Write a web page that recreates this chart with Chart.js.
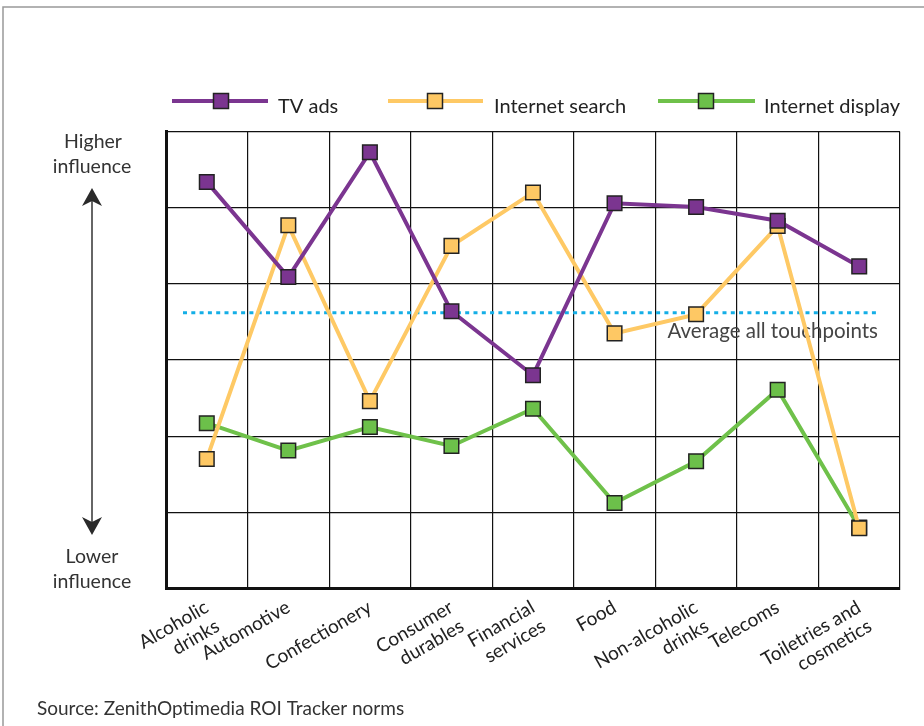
<!DOCTYPE html>
<html><head><meta charset="utf-8">
<script src="https://cdn.jsdelivr.net/npm/chart.js@4.4.0/dist/chart.umd.min.js"></script>
<style>html,body{margin:0;padding:0;background:#fff}canvas{display:block}</style>
</head><body>
<canvas id="c" width="924" height="726"></canvas>
<script>
// ---- data ----
const categories = [['Alcoholic','drinks'],'Automotive','Confectionery',['Consumer','durables'],['Financial','services'],'Food',['Non-alcoholic','drinks'],'Telecoms',['Toiletries and','cosmetics']];
const tvAds = [5.34, 4.09, 5.73, 3.64, 2.80, 5.06, 5.01, 4.83, 4.23];
const internetSearch = [1.70, 4.77, 2.46, 4.50, 5.20, 3.35, 3.60, 4.76, 0.79];
const internetDisplay = [2.17, 1.81, 2.12, 1.87, 2.36, 1.12, 1.67, 2.61, 0.80];
const averageAll = [3.62];
const seriesNames = ['TV ads', 'Internet search', 'Internet display'];
const topAxisText = ['Higher', 'influence'];
const bottomAxisText = ['Lower', 'influence'];
const averageText = 'Average all touchpoints';
const sourceText = 'Source: ZenithOptimedia ROI Tracker norms';

const FONT = 'Lato';
const lineColors = ['#7b3590', '#fec965', '#6fc14a'];
const markerColors = ['#7b3590', '#fec864', '#6cc04a'];

Chart.defaults.font.family = FONT;

const overlay = {
  id: 'overlay',
  beforeDatasetsDraw(chart) {
    const {ctx, chartArea: a, scales: {y}} = chart;
    const yy = y.getPixelForValue(averageAll[0]);
    ctx.save();
    ctx.strokeStyle = '#14aee6';
    ctx.lineWidth = 3;
    ctx.setLineDash([4, 4.3]);
    ctx.beginPath();
    ctx.moveTo(a.left + 17, yy);
    ctx.lineTo(a.right - 23, yy);
    ctx.stroke();
    ctx.setLineDash([]);
    ctx.fillStyle = '#444';
    ctx.font = '20.5px ' + FONT;
    ctx.textAlign = 'right';
    ctx.textBaseline = 'alphabetic';
    ctx.fillText(averageText, a.right - 22, yy + 25);
    ctx.restore();
  },
  afterDraw(chart) {
    const {ctx} = chart;
    ctx.save();
    // frame
    ctx.strokeStyle = '#999';
    ctx.lineWidth = 1.5;
    ctx.beginPath();
    ctx.moveTo(3, 726); ctx.lineTo(3, 7); ctx.lineTo(924, 7);
    ctx.stroke();
    // legend
    const leg = [[172, 268, 221, 278], [388, 483, 435, 494], [658, 755, 706, 764]];
    leg.forEach((l, i) => {
      ctx.strokeStyle = lineColors[i];
      ctx.lineWidth = 4;
      ctx.beginPath(); ctx.moveTo(l[0], 101); ctx.lineTo(l[1], 101); ctx.stroke();
      ctx.fillStyle = markerColors[i];
      ctx.fillRect(l[2] - 7.5, 93.5, 15, 15);
      ctx.strokeStyle = '#222'; ctx.lineWidth = 1.5;
      ctx.strokeRect(l[2] - 7.5, 93.5, 15, 15);
      ctx.fillStyle = '#222';
      ctx.font = '20px ' + FONT;
      ctx.textAlign = 'left'; ctx.textBaseline = 'alphabetic';
      ctx.fillText(seriesNames[i], l[3], 113);
    });
    // vertical arrow
    ctx.strokeStyle = '#333'; ctx.lineWidth = 1.5;
    ctx.beginPath(); ctx.moveTo(92, 200); ctx.lineTo(92, 523); ctx.stroke();
    ctx.fillStyle = '#2a2a2a';
    ctx.beginPath(); ctx.moveTo(92, 188); ctx.lineTo(102, 206); ctx.lineTo(92, 201); ctx.lineTo(82, 206); ctx.closePath(); ctx.fill();
    ctx.beginPath(); ctx.moveTo(92, 535); ctx.lineTo(102, 517); ctx.lineTo(92, 522); ctx.lineTo(82, 517); ctx.closePath(); ctx.fill();
    // axis texts
    ctx.fillStyle = '#333';
    ctx.font = '19.5px ' + FONT;
    ctx.textAlign = 'center';
    ctx.fillText(topAxisText[0], 93, 148);
    ctx.fillText(topAxisText[1], 92, 173);
    ctx.fillText(bottomAxisText[0], 92, 563);
    ctx.fillText(bottomAxisText[1], 92, 588);
    // source
    ctx.font = '19px ' + FONT;
    ctx.textAlign = 'left';
    ctx.fillText(sourceText, 37, 715);
    ctx.restore();
  }
};

function ds(label, data, i) {
  return {
    label, data,
    borderColor: lineColors[i], borderWidth: 4,
    pointStyle: 'rect', pointRadius: 10.3,
    pointBackgroundColor: markerColors[i], pointBorderColor: '#222', pointBorderWidth: 1.5,
    tension: 0, fill: false
  };
}

new Chart(document.getElementById('c'), {
  type: 'line',
  data: {
    labels: categories,
    datasets: [
      ds(seriesNames[0], tvAds, 0),
      ds(seriesNames[1], internetSearch, 1),
      ds(seriesNames[2], internetDisplay, 2)
    ]
  },
  options: {
    responsive: false,
    animation: false,
    events: [],
    layout: {padding: {left: 166, right: 24, top: 131.7, bottom: 0}},
    plugins: {legend: {display: false}, tooltip: {enabled: false}, title: {display: false}},
    scales: {
      x: {
        offset: true,
        grid: {offset: true, color: '#111', lineWidth: 1.2, drawTicks: false},
        border: {color: '#111', width: 3},
        ticks: {
          autoSkip: false, minRotation: 30, maxRotation: 30, padding: 8,
          color: '#222', font: {size: 19, family: FONT, lineHeight: 1.15}
        },
        afterFit(s) { s.height = 726 - 588.3; }
      },
      y: {
        min: 0, max: 6,
        grid: {color: '#111', lineWidth: 1.2, drawTicks: false},
        border: {color: '#111', width: 3},
        ticks: {display: false, stepSize: 1},
        afterFit(s) { s.width = 0; }
      }
    }
  },
  plugins: [overlay]
});
</script>
</body></html>
